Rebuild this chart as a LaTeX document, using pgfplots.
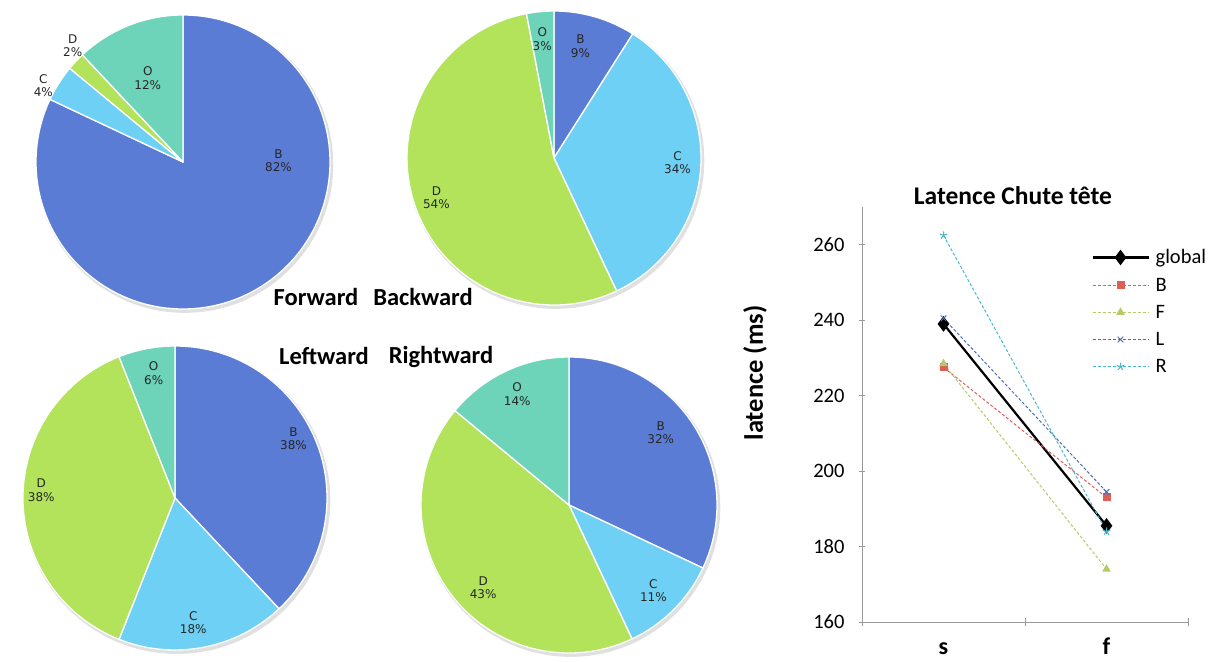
\documentclass[border=0pt]{standalone}
\usepackage{fontspec}
\setmainfont{Carlito}
\newfontfamily\labfont{DejaVu Sans}
\usepackage{pgfplots}
\pgfplotsset{compat=1.18}

\definecolor{cB}{HTML}{5B7CD4}
\definecolor{cC}{HTML}{6DD0F4}
\definecolor{cD}{HTML}{B2E35A}
\definecolor{cO}{HTML}{6DD4BA}
\definecolor{lR}{HTML}{DE5E58}
\definecolor{lF}{HTML}{B5CB68}
\definecolor{lL}{HTML}{4A6DB3}
\definecolor{lC}{HTML}{4DB6CF}

% slice: start (%), value (%), colour, radius (pt)
\newcommand\slice[4]{%
  \fill[#3, draw=white, line width=1.3pt, line join=round] (axis cs:0,0) --
    (axis cs:{cos(90-3.6*#1)},{sin(90-3.6*#1)})
    arc[start angle={90-3.6*#1}, end angle={90-3.6*(#1+#2)}, radius=#4pt] -- cycle;}
\newcommand\pieshadow[1]{%
  \fill[black!12] (axis cs:0.012,-0.016) circle[radius={#1pt+1.5pt}];}
\newcommand\plab[4]{%
  \node[align=center, inner sep=0pt, text=black!85,
        font=\labfont\fontsize{12}{13.5}\selectfont] at (axis cs:#1,#2) {#3\\#4\%};}

\begin{document}
\begin{tikzpicture}[x=1pt,y=1pt]
\useasboundingbox (0pt,0pt) rectangle (1217pt,661pt);
\pgfplotsset{pie/.style={hide axis, scale only axis, xmin=-1, xmax=1,
  ymin=-1, ymax=1, clip=false, anchor=center}}

% ---------- Forward ----------
\begin{axis}[pie, at={(183pt,499pt)}, width=294pt, height=294pt]
\pieshadow{147}
\slice{0}{82}{cB}{147}
\slice{82}{4}{cC}{147}
\slice{86}{2}{cD}{147}
\slice{88}{12}{cO}{147}
\plab{0.65}{0.01}{B}{82}
\plab{-0.24}{0.57}{O}{12}
\plab{-0.75}{0.79}{D}{2}
\plab{-0.95}{0.52}{C}{4}
\end{axis}

% ---------- Backward ----------
\begin{axis}[pie, at={(554pt,503pt)}, width=294pt, height=294pt]
\pieshadow{147}
\slice{0}{9}{cB}{147}
\slice{9}{34}{cC}{147}
\slice{43}{54}{cD}{147}
\slice{97}{3}{cO}{147}
\plab{0.18}{0.76}{B}{9}
\plab{-0.08}{0.81}{O}{3}
\plab{0.84}{-0.03}{C}{34}
\plab{-0.80}{-0.27}{D}{54}
\end{axis}

% ---------- Leftward ----------
\begin{axis}[pie, at={(175pt,163pt)}, width=304pt, height=304pt]
\pieshadow{152}
\slice{0}{38}{cB}{152}
\slice{38}{18}{cC}{152}
\slice{56}{38}{cD}{152}
\slice{94}{6}{cO}{152}
\plab{0.78}{0.39}{B}{38}
\plab{-0.14}{0.82}{O}{6}
\plab{0.12}{-0.82}{C}{18}
\plab{-0.88}{0.05}{D}{38}
\end{axis}

% ---------- Rightward ----------
\begin{axis}[pie, at={(569pt,156pt)}, width=296pt, height=296pt]
\pieshadow{148}
\slice{0}{32}{cB}{148}
\slice{32}{11}{cC}{148}
\slice{43}{43}{cD}{148}
\slice{86}{14}{cO}{148}
\plab{0.62}{0.49}{B}{32}
\plab{-0.35}{0.75}{O}{14}
\plab{0.57}{-0.58}{C}{11}
\plab{-0.58}{-0.56}{D}{43}
\end{axis}

% pie titles
\node[font=\bfseries\fontsize{24.5}{27}\selectfont] at (316pt,364pt) {Forward};
\node[font=\bfseries\fontsize{24.5}{27}\selectfont] at (423pt,364pt) {Backward};
\node[font=\bfseries\fontsize{24.5}{27}\selectfont] at (324pt,305pt) {Leftward};
\node[font=\bfseries\fontsize{24.5}{27}\selectfont] at (441pt,304pt) {Rightward};

% ---------- Line chart ----------
\begin{axis}[at={(862pt,39pt)}, anchor=south west, scale only axis,
  width=326pt, height=415pt,
  xmin=0, xmax=2, ymin=160, ymax=270,
  axis x line*=bottom, axis y line*=left,
  axis line style={draw=black!40, line width=1pt, -},
  xtick={0.5,1.5}, xticklabels={s,f},
  major x tick style={draw=none},
  minor xtick={0,1,2},
  ytick={160,180,...,260},
  tick align=center,
  major tick length=6pt, minor tick length=8pt,
  every tick/.style={draw=black!40, line width=1pt},
  xticklabel style={font=\bfseries\fontsize{24}{26}\selectfont, anchor=base, yshift=-29pt},
  yticklabel style={font=\fontsize{20.5}{24}\selectfont, xshift=-11pt},
  /pgf/number format/assume math mode=true,
  ylabel={latence (ms)},
  ylabel style={font=\bfseries\fontsize{26.5}{30}\selectfont,
    at={(axis description cs:-0.328,0.6)}, anchor=center},
  title={Latence Chute tête},
  title style={font=\bfseries\fontsize{25.5}{28}\selectfont,
    at={(axis description cs:0.463,1)}, anchor=base, yshift=-4pt},
  legend style={at={(axis description cs:0.70,0.905)}, anchor=north west,
    draw=none, fill=none, font=\fontsize{20.5}{22}\selectfont,
    row sep=8.5pt, inner sep=1pt},
  legend cell align=left,
  legend image code/.code={\draw[mark repeat=2, mark phase=2]
    plot coordinates {(0pt,0pt) (28pt,0pt) (56pt,0pt)};
    \path (60pt,0pt);},
]
\addplot[black, line width=2.2pt, mark=diamond*, mark size=6pt,
  mark options={solid}] coordinates {(0.5,239) (1.5,185.5)};
\addlegendentry{global}
\addplot[lR, line width=1pt, dash pattern=on 3pt off 2pt, mark=square*,
  mark size=3.5pt, mark options={solid}] coordinates {(0.5,227.5) (1.5,193)};
\addlegendentry{B}
\addplot[lF, line width=1pt, dash pattern=on 3pt off 2pt, mark=triangle*,
  mark size=4pt, mark options={solid}] coordinates {(0.5,228.5) (1.5,174)};
\addlegendentry{F}
\addplot[lL, line width=1pt, dash pattern=on 3pt off 2pt, mark=x,
  mark size=4pt, mark options={solid}] coordinates {(0.5,240.5) (1.5,194.5)};
\addlegendentry{L}
\addplot[lC, line width=1pt, dash pattern=on 3pt off 2pt, mark=star,
  mark size=4pt, mark options={solid}] coordinates {(0.5,262.5) (1.5,184)};
\addlegendentry{R}
\end{axis}
\end{tikzpicture}
\end{document}
